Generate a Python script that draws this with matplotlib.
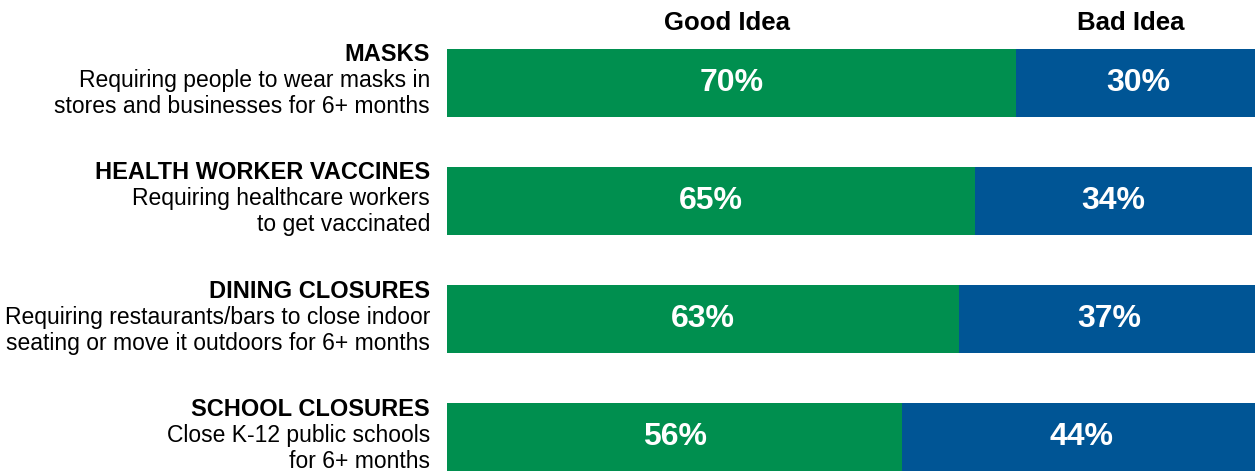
import matplotlib
matplotlib.use("Agg")
import matplotlib.pyplot as plt

plt.rcParams['font.family'] = ['Liberation Sans', 'DejaVu Sans']

# survey results, top row first
titles = ["MASKS", "HEALTH WORKER VACCINES", "DINING CLOSURES", "SCHOOL CLOSURES"]
descriptions = [
    ["Requiring people to wear masks in", "stores and businesses for 6+ months"],
    ["Requiring healthcare workers", "to get vaccinated"],
    ["Requiring restaurants/bars to close indoor", "seating or move it outdoors for 6+ months"],
    ["Close K-12 public schools", "for 6+ months"],
]
good_idea = [70, 65, 63, 56]
bad_idea = [30, 34, 37, 44]
headers = ["Good Idea", "Bad Idea"]

GREEN = "#008F4F"
BLUE = "#005595"

W, H = 1255, 471
fig = plt.figure(figsize=(W / 100, H / 100), dpi=100)
ax = fig.add_axes([447 / W, 0, (W - 447) / W, 422 / H])

bar_h = 0.576
ypos = list(range(len(titles)))

ax.barh(ypos, good_idea, height=bar_h, color=GREEN, linewidth=0)
ax.barh(ypos, bad_idea, left=good_idea, height=bar_h, color=BLUE, linewidth=0)

for i, (g, b) in enumerate(zip(good_idea, bad_idea)):
    ax.text(g / 2, i, f"{g}%", ha="center", va="center", color="white",
            fontsize=23, fontweight="bold")
    ax.text(g + b / 2, i, f"{b}%", ha="center", va="center", color="white",
            fontsize=23, fontweight="bold")

# category labels to the left of each bar (offsets in pixels -> points)
px = 0.72
for i, (t, desc) in enumerate(zip(titles, descriptions)):
    ax.annotate(t, xy=(0, i), xytext=(-17 * px, 28 * px), textcoords="offset points",
                ha="right", va="center", fontsize=17, fontweight="bold", color="black")
    for k, line in enumerate(desc):
        ax.annotate(line, xy=(0, i), xytext=(-17 * px, (2 - 26 * k) * px),
                    textcoords="offset points", ha="right", va="center",
                    fontsize=16.5, color="black")

ax.set_xlim(0, 99.4)
ax.set_ylim(len(titles) - 1 + bar_h / 2, -bar_h / 2)
ax.axis("off")

fig.text(727 / W, 1 - 23 / H, headers[0], ha="center", va="center",
         fontsize=18.5, fontweight="bold")
fig.text(1131 / W, 1 - 23 / H, headers[1], ha="center", va="center",
         fontsize=18.5, fontweight="bold")

fig.savefig("out.png", dpi=100, facecolor="white")
